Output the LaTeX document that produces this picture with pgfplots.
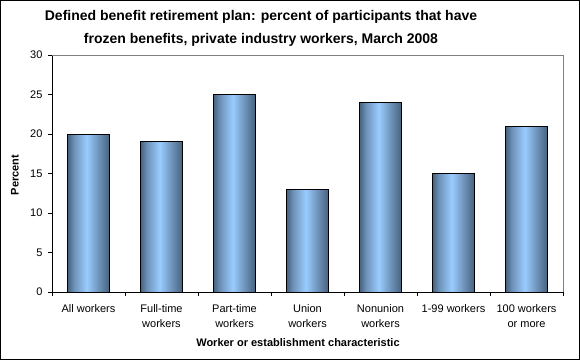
\documentclass[border=0pt]{standalone}
\usepackage{fontspec}
\setmainfont{Liberation Sans}
\usepackage{pgfplots}
\pgfplotsset{compat=1.18}
\definecolor{edgeblue}{HTML}{46627F}
\definecolor{lightblue}{HTML}{99CCFF}
\definecolor{midblue}{HTML}{6F93BA}
\pgfdeclarehorizontalshading{barshade}{100bp}{color(0bp)=(edgeblue); color(25bp)=(edgeblue); color(33bp)=(midblue); color(48bp)=(lightblue); color(62bp)=(midblue); color(75bp)=(edgeblue); color(100bp)=(edgeblue)}
\pgfplotsset{barsty/.style={ybar, bar width=42pt, bar shift=0pt, draw=black, line width=0.9pt, shading=barshade, mark=none}}
\begin{document}
\begin{tikzpicture}[x=1pt,y=1pt]
\useasboundingbox (0,0) rectangle (580,360);
\draw[black, line width=1pt] (0.5,0.5) rectangle (579.5,359.5);
\begin{axis}[
  at={(52pt,68pt)}, anchor=south west,
  scale only axis, width=511pt, height=237pt,
  xmin=-0.5, xmax=6.5, ymin=0, ymax=30,
  ytick={0,5,...,30},
  xtick={0,...,6},
  xticklabels={All workers, Full-time\\workers, Part-time\\workers, Union\\workers, Nonunion\\workers, 1-99 workers, 100 workers\\or more},
  x tick label style={align=center, font=\fontsize{11}{15}\selectfont, yshift=-5pt},
  y tick label style={font=\fontsize{11}{13}\selectfont, xshift=-2pt},
  major x tick style={draw=none},
  minor xtick={-0.5,0.5,...,6.5},
  tick align=outside,
  major tick length=4pt, minor tick length=4pt,
  tick style={black, line width=0.8pt},
  axis lines*=left,
  axis line style={black, line width=0.8pt},
  /pgf/number format/assume math mode=true,
  clip=false,
]
\draw[gray, line width=0.8pt] (rel axis cs:0,1) -- (rel axis cs:1,1) -- (rel axis cs:1,0);
\addplot[barsty] coordinates {(0,20)};
\addplot[barsty] coordinates {(1,19)};
\addplot[barsty] coordinates {(2,25)};
\addplot[barsty] coordinates {(3,13)};
\addplot[barsty] coordinates {(4,24)};
\addplot[barsty] coordinates {(5,15)};
\addplot[barsty] coordinates {(6,21)};
\end{axis}
\node[align=center, font=\fontsize{14}{23}\selectfont\bfseries] at (261,331.5) {Defined benefit retirement plan: percent of participants that have\\frozen benefits, private industry workers, March 2008};
\node[rotate=90, font=\fontsize{11}{13}\selectfont\bfseries] at (15,185) {Percent};
\node[font=\fontsize{11}{13}\selectfont\bfseries] at (298,17) {Worker or establishment characteristic};
\end{tikzpicture}
\end{document}
